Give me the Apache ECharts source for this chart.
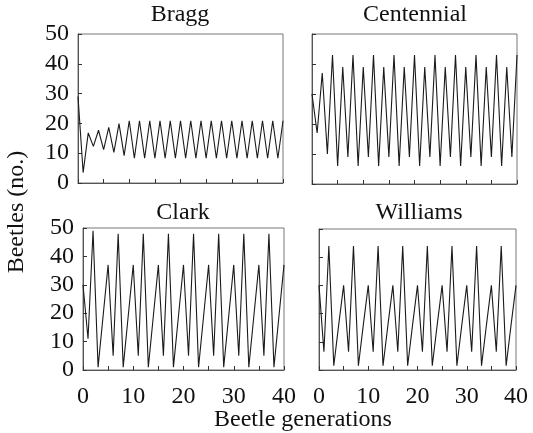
<!DOCTYPE html>
<html>
<head>
<meta charset="utf-8">
<script src="https://cdn.jsdelivr.net/npm/echarts@6/dist/echarts.min.js"></script>
<style>html,body{margin:0;padding:0;background:#fff}#c{width:533px;height:433px}</style>
</head>
<body>
<div id="c"></div>
<script>
const generations = [0,1,2,3,4,5,6,7,8,9,10,11,12,13,14,15,16,17,18,19,20,21,22,23,24,25,26,27,28,29,30,31,32,33,34,35,36,37,38,39,40];
const panelNames = ["Bragg", "Centennial", "Clark", "Williams"];
const bragg = [29,3.5,16.8,12.3,17.7,11.2,18.7,10.3,19.9,9.2,20.9,8.3,20.9,8.3,20.9,8.3,20.9,8.3,20.9,8.3,20.9,8.3,20.9,8.3,20.9,8.3,20.9,8.3,20.9,8.3,20.9,8.3,20.9,8.3,20.9,8.3,20.9,8.3,20.9,8.3,20.9];
const centennial = [30,17,37,10,43,6,39,9,43,6,39,9,43,6,39,9,43,6,39,9,43,6,39,9,43,6,39,9,43,6,39,9,43,6,39,9,43,6,39,9,43];
const clark = [30,11,49,1,19,37,5,48,1,19,37,5,48,1,19,37,5,48,1,19,37,5,48,1,19,37,5,48,1,19,37,5,48,1,19,37,5,48,1,19,37];
const williams = [30,6.5,44,1.5,16,30,6.5,44,1.5,16,30,6.5,44,1.5,16,30,6.5,44,1.5,16,30,6.5,44,1.5,16,30,6.5,44,1.5,16,30,6.5,44,1.5,16,30,6.5,44,1.5,16,30];
const yTicks = [0,10,20,30,40,50];
const xTickLabels = [0,10,20,30,40];
const yAxisTitle = "Beetles (no.)";
const xAxisTitle = "Beetle generations";

const seriesData = [bragg, centennial, clark, williams];
const FONT = "Liberation Serif";
const grids = [
  {left:78, top:34, width:205, height:149},
  {left:312, top:34, width:205, height:150},
  {left:83, top:228, width:201, height:142},
  {left:319, top:229, width:197, height:141}
];
const titlePos = [[180,15],[415,15],[183,213],[419,213]];

const chart = echarts.init(document.getElementById('c'), null, {renderer:'canvas'});
const option = {
  animation:false,
  backgroundColor:'#fff',
  grid: grids.map(g => Object.assign({show:true, borderColor:'#777', borderWidth:1, backgroundColor:'transparent'}, g)),
  xAxis: grids.map((g,i) => ({
    type:'value', gridIndex:i, min:0, max:40, interval:5,
    axisLine:{show:true, onZero:false, lineStyle:{color:'#555', width:1}},
    axisTick:{show:true, inside:true, length:4, lineStyle:{color:'#333'}},
    splitLine:{show:false},
    axisLabel:{show: i>=2, margin:15, color:'#111', fontFamily:FONT, fontSize:24,
      formatter: v => xTickLabels.indexOf(v) >= 0 ? String(v) : ''}
  })),
  yAxis: grids.map((g,i) => ({
    type:'value', gridIndex:i, min:yTicks[0], max:yTicks[yTicks.length-1], interval:10,
    axisLine:{show:true, onZero:false, lineStyle:{color:'#555', width:1}},
    axisTick:{show:true, inside:true, length:4, lineStyle:{color:'#333'}},
    splitLine:{show:false},
    axisLabel:{show: i%2===0, margin:9, color:'#111', fontFamily:FONT, fontSize:24}
  })),
  series: seriesData.map((d,i) => ({
    type:'line', xAxisIndex:i, yAxisIndex:i, symbol:'none',
    data: generations.map((g,k) => [g, d[k]]),
    lineStyle:{color:'#1a1a1a', width:1.1}
  })),
  graphic: panelNames.map((n,i) => ({
    type:'text', x:titlePos[i][0], y:titlePos[i][1],
    style:{text:n, font:'24px "Liberation Serif"', fill:'#111', textAlign:'center', textVerticalAlign:'middle'}
  })).concat([
    {type:'text', x:17, y:212, rotation:Math.PI/2,
     style:{text:yAxisTitle, font:'24px "Liberation Serif"', fill:'#111', textAlign:'center', textVerticalAlign:'middle'}},
    {type:'text', x:303, y:420,
     style:{text:xAxisTitle, font:'24px "Liberation Serif"', fill:'#111', textAlign:'center', textVerticalAlign:'middle'}}
  ])
};
chart.setOption(option);
</script>
</body>
</html>
